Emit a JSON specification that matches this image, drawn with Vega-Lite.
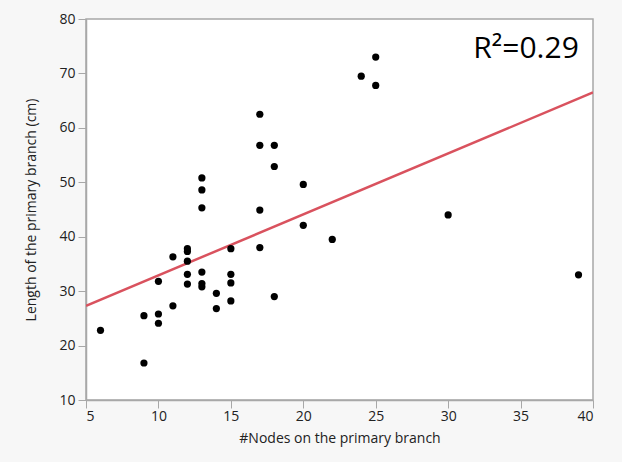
{
  "$schema": "https://vega.github.io/schema/vega-lite/v6.json",
  "width": 507,
  "height": 381,
  "autosize": {"type": "none"},
  "padding": {"left": 86, "top": 19, "right": 29, "bottom": 62},
  "background": "#f7f7f7",
  "config": {
    "view": {"fill": "white", "stroke": "#a8a8a8", "strokeWidth": 1.5},
    "font": "Open Sans",
    "axis": {
      "grid": false,
      "domainColor": "#a8a8a8",
      "tickColor": "#a8a8a8",
      "tickSize": 8,
      "domainWidth": 1.5,
      "labelFontSize": 14,
      "labelColor": "#222222",
      "titleFontSize": 14,
      "titleFontWeight": "normal",
      "titleColor": "#222222",
      "labelFont": "Open Sans",
      "titleFont": "Open Sans"
    }
  },
  "datasets": {
    "pts": [
      {"nodes": 6, "length": 22.8},
      {"nodes": 9, "length": 25.5},
      {"nodes": 9, "length": 16.8},
      {"nodes": 10, "length": 31.8},
      {"nodes": 10, "length": 25.8},
      {"nodes": 10, "length": 24.1},
      {"nodes": 11, "length": 36.3},
      {"nodes": 11, "length": 27.3},
      {"nodes": 12, "length": 37.8},
      {"nodes": 12, "length": 37.3},
      {"nodes": 12, "length": 35.5},
      {"nodes": 12, "length": 33.1},
      {"nodes": 12, "length": 31.3},
      {"nodes": 13, "length": 50.8},
      {"nodes": 13, "length": 48.6},
      {"nodes": 13, "length": 45.3},
      {"nodes": 13, "length": 33.5},
      {"nodes": 13, "length": 31.4},
      {"nodes": 13, "length": 30.8},
      {"nodes": 14, "length": 29.6},
      {"nodes": 14, "length": 26.8},
      {"nodes": 15, "length": 37.8},
      {"nodes": 15, "length": 33.1},
      {"nodes": 15, "length": 31.5},
      {"nodes": 15, "length": 28.2},
      {"nodes": 17, "length": 62.5},
      {"nodes": 17, "length": 56.8},
      {"nodes": 17, "length": 44.9},
      {"nodes": 17, "length": 38.0},
      {"nodes": 18, "length": 56.8},
      {"nodes": 18, "length": 52.9},
      {"nodes": 18, "length": 29.0},
      {"nodes": 20, "length": 49.6},
      {"nodes": 20, "length": 42.1},
      {"nodes": 22, "length": 39.5},
      {"nodes": 24, "length": 69.5},
      {"nodes": 25, "length": 73.0},
      {"nodes": 25, "length": 67.8},
      {"nodes": 30, "length": 44.0},
      {"nodes": 39, "length": 33.0}
    ],
    "fit": [
      {"nodes": 5, "length": 27.3},
      {"nodes": 40, "length": 66.5}
    ],
    "note": [
      {"label": "R²=0.29"}
    ]
  },
  "layer": [
    {
      "data": {"name": "fit"},
      "mark": {"type": "line", "color": "#d9525e", "strokeWidth": 2.5, "clip": true},
      "encoding": {
        "x": {"field": "nodes", "type": "quantitative"},
        "y": {"field": "length", "type": "quantitative"}
      }
    },
    {
      "data": {"name": "pts"},
      "mark": {"type": "circle", "color": "black", "opacity": 1, "size": 52},
      "encoding": {
        "x": {
          "field": "nodes",
          "type": "quantitative",
          "scale": {"domain": [5, 40], "nice": false, "zero": false},
          "axis": {"title": "#Nodes on the primary branch", "values": [5, 10, 15, 20, 25, 30, 35, 40], "labelPadding": 1, "titlePadding": 8}
        },
        "y": {
          "field": "length",
          "type": "quantitative",
          "scale": {"domain": [10, 80], "nice": false, "zero": false},
          "axis": {"title": "Length of the primary branch (cm)", "values": [10, 20, 30, 40, 50, 60, 70, 80], "labelPadding": 3, "titlePadding": 20}
        }
      }
    },
    {
      "data": {"name": "note"},
      "mark": {"type": "text", "align": "right", "baseline": "alphabetic", "fontSize": 30, "font": "Open Sans", "color": "black"},
      "encoding": {
        "text": {"field": "label"},
        "x": {"datum": 39.02, "type": "quantitative"},
        "y": {"datum": 72.8, "type": "quantitative"}
      }
    }
  ]
}
